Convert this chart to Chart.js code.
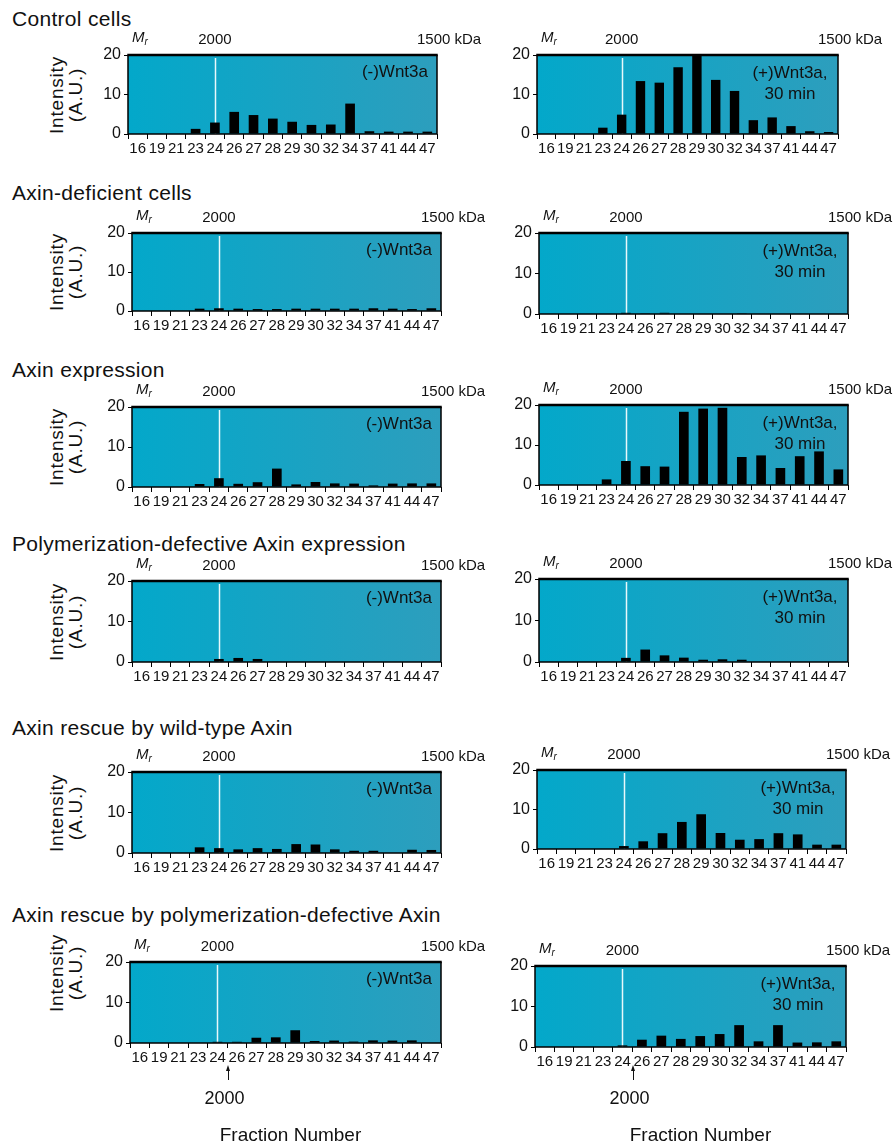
<!DOCTYPE html>
<html><head><meta charset="utf-8">
<script src="https://cdn.jsdelivr.net/npm/chart.js@4.4.1/dist/chart.umd.min.js"></script>
<style>
body{margin:0;background:#fff;width:893px;height:1144px;position:relative;overflow:hidden;font-family:"Liberation Sans",Arial,sans-serif;color:#111;}
.t{position:absolute;white-space:nowrap;line-height:1;}
canvas{position:absolute;}
sub{font-size:10px;vertical-align:-3px;font-style:italic;}
.arrow{position:absolute;width:0;height:12px;border-left:1.2px solid #111;}
.head{position:absolute;width:0;height:0;border-left:2.5px solid transparent;border-right:2.5px solid transparent;border-bottom:6px solid #111;}
</style></head><body>
<script>
// ---------- data ----------
const categories = ['16','19','21','23','24','26','27','28','29','30','32','34','37','41','44','47'];
const controlMinus    = [0,0,0,1.3,2.9,5.6,4.8,3.9,3.1,2.3,2.4,7.7,0.7,0.6,0.6,0.6];
const controlPlus     = [0,0,0,1.6,4.9,13.4,13.0,16.9,20,13.7,10.9,3.5,4.2,2.0,0.7,0.5];
const deficientMinus  = [0,0,0,0.6,0.7,0.6,0.5,0.5,0.6,0.6,0.6,0.6,0.7,0.6,0.5,0.7];
const deficientPlus   = [0,0,0,0,0.3,0.2,0.3,0,0,0,0.2,0,0,0,0,0];
const expressionMinus = [0,0,0,0.75,2.2,0.8,1.2,4.6,0.65,1.25,0.9,0.85,0.4,0.85,0.9,0.9];
const expressionPlus  = [0,0,0,1.4,6.0,4.7,4.6,18.3,19.1,19.3,7.0,7.4,4.25,7.2,8.4,3.9];
const polyDefMinus    = [0,0,0,0,0.75,1.0,0.75,0.1,0,0,0,0,0,0,0,0];
const polyDefPlus     = [0,0,0,0,1.0,3.0,1.6,1.05,0.55,0.65,0.55,0,0,0,0,0];
const rescueWtMinus   = [0,0,0,1.4,1.2,0.9,1.2,1.0,2.2,2.1,0.9,0.55,0.55,0,0.8,0.75];
const rescueWtPlus    = [0,0,0,0,0.75,1.95,4.0,6.85,8.8,4.05,2.35,2.5,4.0,3.7,1.1,1.1];
const rescuePdMinus   = [0,0,0,0,0.3,0.3,1.3,1.4,3.15,0.5,0.6,0.35,0.65,0.6,0.65,0];
const rescuePdPlus    = [0,0,0,0,0.4,1.8,2.8,2.0,2.7,3.2,5.4,1.4,5.4,1.1,1.15,1.4];
const yTicks = [0,10,20];
const panelTitles = ['Control cells','Axin-deficient cells','Axin expression',
  'Polymerization-defective Axin expression','Axin rescue by wild-type Axin',
  'Axin rescue by polymerization-defective Axin'];
const minusLabel = '(-)Wnt3a';
const plusLabel = ['(+)Wnt3a,','30 min'];
const markerFraction = '24';
const markerMass = '2000';
const endMass = '1500 kDa';
const yTitle = ['Intensity','(A.U.)'];
const xTitle = 'Fraction Number';
const seriesRows = [[controlMinus,controlPlus],[deficientMinus,deficientPlus],[expressionMinus,expressionPlus],
  [polyDefMinus,polyDefPlus],[rescueWtMinus,rescueWtPlus],[rescuePdMinus,rescuePdPlus]];

// ---------- layout ----------
const rowLayout = [
  {titleY:18,  yLabOff:0,   L:[128,55,309,79],  R:[537,55,301,79]},
  {titleY:192, yLabOff:0,   L:[132,233,309,78], R:[539,233,309,81]},
  {titleY:369, yLabOff:0,   L:[132,407,309,80], R:[539,405,309,80]},
  {titleY:543, yLabOff:0,   L:[132,581,309,81], R:[539,579,309,83]},
  {titleY:727, yLabOff:0,   L:[132,772,309,81], R:[537,770,309,79]},
  {titleY:914, yLabOff:-30, L:[130,962,311,81], R:[535,966,311,81]}
];

function addText(html, x, y, size, anchor, extra){
  const d=document.createElement('div');
  d.className='t';
  d.innerHTML=html;
  d.style.fontSize=size+'px';
  d.style.left=x+'px'; d.style.top=y+'px';
  const tx = anchor==='c'?'-50%':(anchor==='r'?'-100%':'0');
  d.style.transform='translate('+tx+',-50%)';
  if(extra) Object.assign(d.style, extra);
  document.body.appendChild(d);
  return d;
}

const panelPlugin = {
  id:'panelDeco',
  beforeDraw(chart){
    const {ctx, chartArea:a} = chart;
    const g = ctx.createLinearGradient(a.left,0,a.right,0);
    g.addColorStop(0,'#03a8ca'); g.addColorStop(1,'#2d9ebd');
    ctx.save(); ctx.fillStyle=g; ctx.fillRect(a.left,a.top,a.right-a.left,a.bottom-a.top); ctx.restore();
  },
  beforeDatasetsDraw(chart){
    const {ctx, chartArea:a, scales:{x}} = chart;
    const mx = Math.round(x.getPixelForValue(categories.indexOf(markerFraction)))+0.5;
    ctx.save(); ctx.strokeStyle='#e8f8fb'; ctx.lineWidth=1.5;
    ctx.beginPath(); ctx.moveTo(mx,a.top+3); ctx.lineTo(mx,a.bottom); ctx.stroke(); ctx.restore();
  },
  afterDatasetsDraw(chart){
    const {ctx, chartArea:a} = chart;
    ctx.save(); ctx.strokeStyle='#000';
    ctx.lineWidth=1.5;
    ctx.beginPath(); ctx.moveTo(a.left,a.top); ctx.lineTo(a.left,a.bottom); ctx.lineTo(a.right,a.bottom); ctx.lineTo(a.right,a.top); ctx.stroke();
    ctx.lineWidth=2.5;
    ctx.beginPath(); ctx.moveTo(a.left-0.75,a.top); ctx.lineTo(a.right+0.75,a.top); ctx.stroke();
    ctx.restore();
  }
};

function makePanel(rect, values){
  const [x,y,w,h]=rect;
  const padL=40,padT=14,padR=14,padB=30;
  const c=document.createElement('canvas');
  c.width=w+padL+padR; c.height=h+padT+padB;
  c.style.left=(x-padL)+'px'; c.style.top=(y-padT)+'px';
  c.style.width=c.width+'px'; c.style.height=c.height+'px';
  document.body.appendChild(c);
  new Chart(c,{
    type:'bar',
    data:{labels:categories,datasets:[{data:values,backgroundColor:'#000',borderWidth:0,barPercentage:0.5,categoryPercentage:1}]},
    options:{
      responsive:false,animation:false,devicePixelRatio:1,
      layout:{padding:{top:padT,right:padR,left:0,bottom:0}},
      plugins:{legend:{display:false},tooltip:{enabled:false}},
      scales:{
        x:{grid:{offset:true,drawOnChartArea:false,drawTicks:true,tickLength:5,color:'#000',lineWidth:1},
           border:{display:false},
           ticks:{autoSkip:false,maxRotation:0,minRotation:0,padding:1,color:'#111',
                  font:{family:'"Liberation Sans Narrow","Liberation Sans",Arial',size:15}},
           afterFit:s=>{s.height=padB;}},
        y:{min:0,max:20,grid:{drawOnChartArea:false,drawTicks:true,tickLength:4,color:'#000',lineWidth:1},
           border:{display:false},
           afterBuildTicks:s=>{s.ticks=yTicks.map(v=>({value:v}));},
           ticks:{padding:3,color:'#111',font:{family:'"Liberation Sans",Arial',size:16}},
           afterFit:s=>{s.width=padL;}}
      }
    },
    plugins:[panelPlugin]
  });
}

rowLayout.forEach((row,i)=>{
  addText(panelTitles[i], 12, row.titleY, 21, 'l', {letterSpacing:'0.3px'});
  ['L','R'].forEach((side,j)=>{
    const r=row[side]; const [x,y,w,h]=r;
    makePanel(r, seriesRows[i][j]);
    const mx = x + (categories.indexOf(markerFraction)+0.5)*w/categories.length;
    addText('<i>M</i><sub>r</sub>', x+4, y-17, 15, 'l');
    addText(markerMass, mx, y-17, 15, 'c');
    addText(endMass, x+w-20, y-17, 15, 'l');
    if(side==='L'){
      addText(minusLabel, x+w-9, y+16, 17, 'r');
      const d=addText(yTitle.join('<br>'), 66, y+h/2+row.yLabOff, 19, 'c',
        {lineHeight:'19px',textAlign:'center',letterSpacing:'0.8px'});
      d.style.transform='translate(-50%,-50%) rotate(-90deg)';
    } else {
      addText(plusLabel.join('<br>'), x+w-48, y+28, 17, 'c', {lineHeight:'21px',textAlign:'center'});
    }
  });
});

// bottom annotations
[rowLayout[5].L, rowLayout[5].R].forEach((r,j)=>{
  const [x,y,w,h]=r;
  const mx = x + (categories.indexOf(markerFraction)+0.5)*w/categories.length;
  const ax = Math.round(mx+11);
  const line=document.createElement('div'); line.className='arrow';
  line.style.left=ax+'px'; line.style.top='1068px'; document.body.appendChild(line);
  const head=document.createElement('div'); head.className='head';
  head.style.left=(ax-2)+'px'; head.style.top='1065px'; document.body.appendChild(head);
  addText(markerMass, mx+7, 1098, 18, 'c');
  addText(xTitle, x+w/2+5+(j?5:0), 1134, 19, 'c');
});
</script>
</body></html>
